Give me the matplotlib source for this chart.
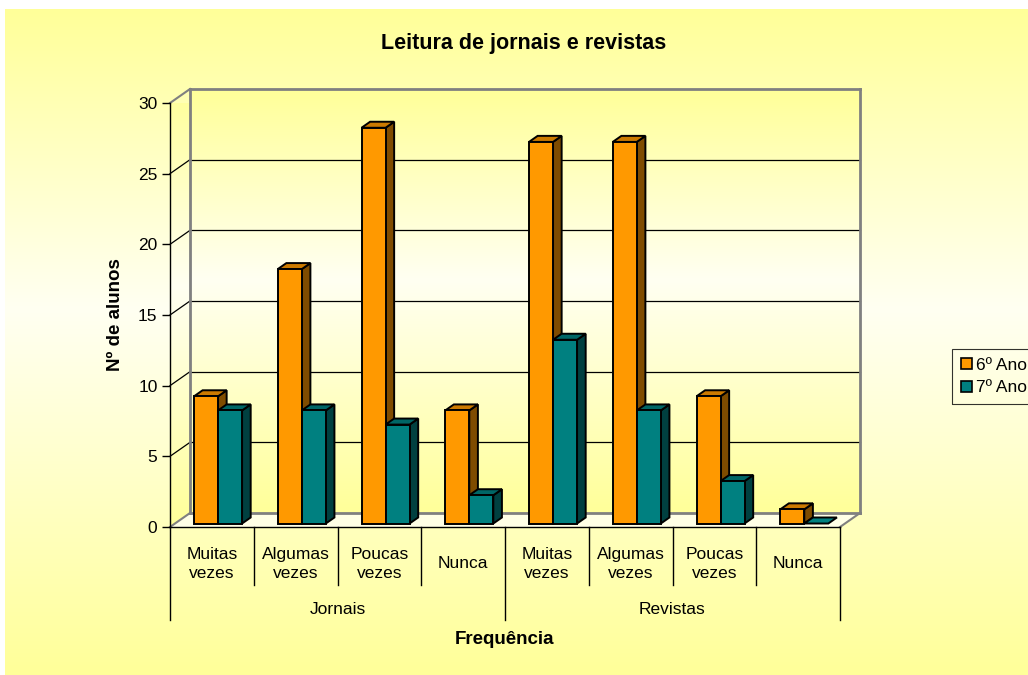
import numpy as np
import matplotlib.pyplot as plt
from matplotlib.patches import Polygon, Patch

plt.rcParams['font.family'] = ['Liberation Sans', 'DejaVu Sans']

# data
groups = ['Jornais', 'Revistas']
freq = ['Muitas\nvezes', 'Algumas\nvezes', 'Poucas\nvezes', 'Nunca']
ano6 = [9, 18, 28, 8, 27, 27, 9, 1]
ano7 = [8, 8, 7, 2, 13, 8, 3, 0]
series = ['6º Ano', '7º Ano']

# face colours (front, side, top)
orange = ('#FF9900', '#7F4C00', '#CC7A00')
teal = ('#008080', '#004040', '#006666')

W, H = 1028, 675
fig = plt.figure(figsize=(W / 100, H / 100), dpi=100)
fig.patch.set_facecolor('white')


def gradient(n=256, mid=0.45):
    s = np.linspace(0, 1, n)
    w = np.where(s < mid, s / mid, (1 - s) / (1 - mid))
    top = np.array([255, 255, 153]) / 255
    light = np.array([255, 255, 242]) / 255
    g = top[None, :] * (1 - w[:, None]) + light[None, :] * w[:, None]
    return g[:, None, :]


# chart area background
bg = fig.add_axes([5 / W, 0, 1 - 5 / W, (H - 9) / H])
bg.imshow(gradient(), aspect='auto', extent=(0, 1, 0, 1))
bg.set_axis_off()

# front plane of the 3d plot
ax = fig.add_axes([170 / W, (H - 527) / H, 670 / W, 424 / H])
ax.set_xlim(0, 8)
ax.set_ylim(0, 30)
ax.patch.set_alpha(0)

# depth of the floor in data units (20 px right, 14 px up)
DX = 20 / (670 / 8)
DY = 14 / (424 / 30)


def p(x, y, t=1.0):
    return (x + t * DX, y + t * DY)


# back wall and side wall with gradient
wall = ax.imshow(gradient(), aspect='auto', zorder=0,
                 extent=(DX, 8 + DX, DY, 30 + DY))
wall.set_clip_on(False)
side = ax.imshow(gradient(), aspect='auto', zorder=0,
                 extent=(0, DX, 0, 30 + DY))
lw_poly = Polygon([p(0, 0, 0), p(0, 0), p(0, 30), p(0, 30, 0)],
                  closed=True, facecolor='none', edgecolor='none',
                  clip_on=False)
ax.add_patch(lw_poly)
side.set_clip_path(lw_poly)
floor = Polygon([p(0, 0, 0), p(8, 0, 0), p(8, 0), p(0, 0)], closed=True,
                facecolor='#FFFFE6', edgecolor='none', zorder=0.5,
                clip_on=False)
ax.add_patch(floor)

# gridlines on back wall and diagonals on the side wall
for v in range(5, 30, 5):
    ax.plot([p(0, v)[0], p(8, v)[0]], [p(0, v)[1], p(8, v)[1]],
            color='black', lw=0.9, zorder=1, clip_on=False)
    ax.plot([0, DX], [v, v + DY], color='black', lw=0.9, zorder=1,
            clip_on=False)

# frame edges of the walls
gray = '#808080'
for a, b in [((0, 0), (8, 0)), ((0, 30), (8, 30)), ((0, 0), (0, 30)),
             ((8, 0), (8, 30))]:
    pa, pb = p(*a), p(*b)
    ax.plot([pa[0], pb[0]], [pa[1], pb[1]], color=gray, lw=2, zorder=1.2,
            solid_capstyle='projecting', clip_on=False)
for a in [(0, 0), (0, 30), (8, 0)]:
    pb = p(*a)
    ax.plot([a[0], pb[0]], [a[1], pb[1]], color=gray, lw=1.5, zorder=1.2,
            clip_on=False)

# 3d bars
t0, t1 = 0.25, 0.68
bw = 0.287
off = 0.227
for i in range(8):
    for k, (vals, cols) in enumerate([(ano6, orange), (ano7, teal)]):
        h = vals[i]
        l = i + off + k * bw
        r = l + bw
        faces = []
        if h > 0:
            faces.append(([p(r, 0, t0), p(r, 0, t1), p(r, h, t1), p(r, h, t0)], cols[1]))
            faces.append(([p(l, h, t0), p(r, h, t0), p(r, h, t1), p(l, h, t1)], cols[2]))
            faces.append(([p(l, 0, t0), p(r, 0, t0), p(r, h, t0), p(l, h, t0)], cols[0]))
        else:
            faces.append(([p(l, 0, t0), p(r, 0, t0), p(r, 0, t1), p(l, 0, t1)], cols[0]))
        for verts, c in faces:
            ax.add_patch(Polygon(verts, closed=True, facecolor=c,
                                 edgecolor='black', lw=1.4, zorder=3,
                                 joinstyle='miter', clip_on=False))

# axes
for s in ['top', 'right']:
    ax.spines[s].set_visible(False)
ax.spines['left'].set_linewidth(1)
ax.spines['bottom'].set_linewidth(1)
ax.spines['left'].set_zorder(4)
ax.spines['bottom'].set_zorder(4)
ax.set_yticks(range(0, 31, 5))
ax.tick_params(axis='y', length=6, width=1, labelsize=12.5, pad=3)
ax.set_xticks([])
ax.set_ylabel('Nº de alunos', fontsize=13.5, fontweight='bold')
ax.yaxis.set_label_coords(-46 / 670, 0.5)
ax.set_xlabel('Frequência', fontsize=13.5, fontweight='bold')
ax.xaxis.set_label_coords(0.5, -104 / 424)

# two-level category axis
xt = ax.get_xaxis_transform()
labels = freq * 2
for i, lab in enumerate(labels):
    ax.text(i + 0.5, -37 / 424, lab, transform=xt, ha='center', va='center',
            fontsize=12.5, linespacing=1.4)
for j, g in enumerate(groups):
    ax.text(j * 4 + 2, -82 / 424, g, transform=xt, ha='center', va='center',
            fontsize=12.5)
for x in range(9):
    depth = 93 if x % 4 == 0 else 58
    ax.plot([x, x], [0, -depth / 424], transform=xt, color='black', lw=1,
            clip_on=False)

fig.text(524 / W, 1 - 43 / H, 'Leitura de jornais e revistas',
         ha='center', va='center', fontsize=15.5, fontweight='bold')

handles = [Patch(facecolor=orange[0], edgecolor='black', lw=1.2),
           Patch(facecolor=teal[0], edgecolor='black', lw=1.2)]
leg = fig.legend(handles, series, loc='upper left',
                 bbox_to_anchor=(952 / W, 1 - 349 / H), fontsize=12.5,
                 frameon=True, fancybox=False, handlelength=0.65,
                 handleheight=0.65, handletextpad=0.25, borderpad=0.5,
                 labelspacing=0.45, borderaxespad=0)
leg.get_frame().set_edgecolor('black')
leg.get_frame().set_linewidth(0.8)
leg.get_frame().set_facecolor('none')

fig.savefig('out.png', dpi=100)
